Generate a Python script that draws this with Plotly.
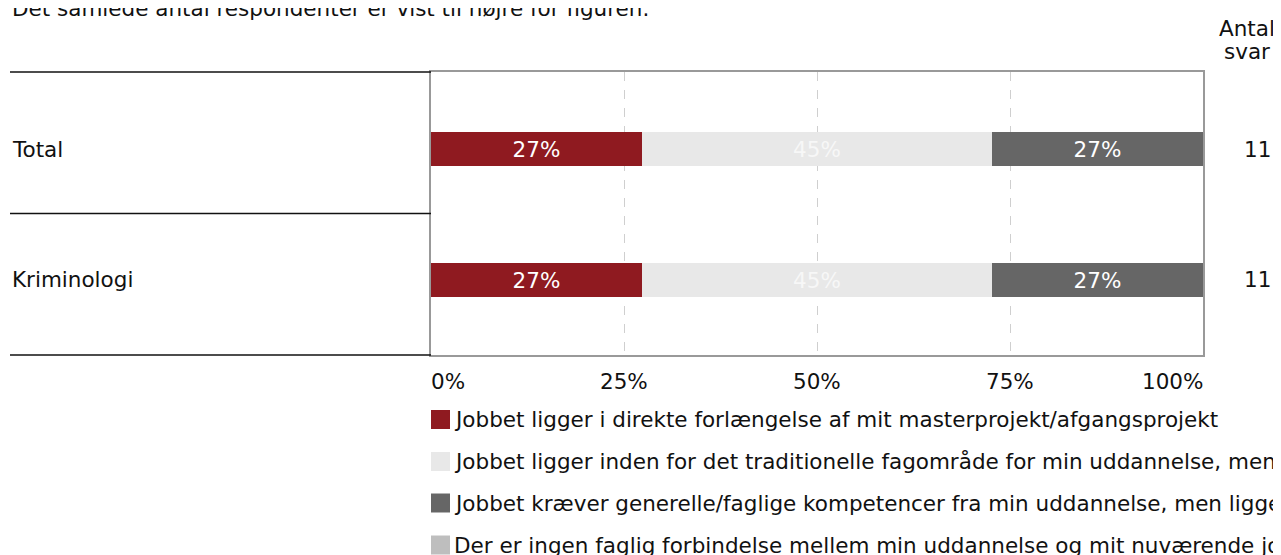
import plotly.graph_objects as go

# ---------------- data ----------------
categories = ["Total", "Kriminologi"]
series_names = [
    "Jobbet ligger i direkte forlængelse af mit masterprojekt/afgangsprojekt",
    "Jobbet ligger inden for det traditionelle fagområde for min uddannelse, men ikke i direkte forlængelse af mit masterprojekt/afgangsprojekt",
    "Jobbet kræver generelle/faglige kompetencer fra min uddannelse, men ligger uden for det traditionelle fagområde",
    "Der er ingen faglig forbindelse mellem min uddannelse og mit nuværende job",
]
direkte = [27.27, 27.27]
inden_for = [45.45, 45.45]
generelle = [27.27, 27.27]
ingen = [0.0, 0.0]
counts = [11, 11]
tick_vals = [0, 25, 50, 75, 100]
tick_labels = ["0%", "25%", "50%", "75%", "100%"]
title_text = "Det samlede antal respondenter er vist til højre for figuren."
count_header = ["Antal", "svar"]

series_values = [direkte, inden_for, generelle, ingen]
colors = ["#8f1a20", "#e8e8e8", "#666666", "#bebebe"]
text_colors = ["#ffffff", "#f7f7f7", "#ffffff", "#ffffff"]

FONT = "Verdana, DejaVu Sans, sans-serif"
FS = 21.5
TXT = "#111111"

OFF = 8  # page body margin
W, H = 1281 - OFF, 555 - OFF
# plot area in page pixels (reference)
PL, PR, PT, PB = 431, 1203, 72, 355
L, R, T, B = PL - OFF, PR - OFF, PT - OFF, PB - OFF


def px_x(x):  # page pixel -> paper
    return (x - PL) / (PR - PL)


def px_y(y):
    return (PB - y) / (PB - PT)


fig = go.Figure()
for name, vals, col, tcol in zip(series_names, series_values, colors, text_colors):
    fig.add_trace(go.Bar(
        y=categories, x=vals, name=name, orientation="h",
        marker=dict(color=col, line=dict(width=0)),
        width=0.255,
        text=[f"{round(v)}%" if v > 0 else "" for v in vals],
        textposition="inside", insidetextanchor="middle", textangle=0,
        insidetextfont=dict(color=tcol, size=FS, family=FONT),
        hoverinfo="skip", showlegend=False,
    ))

annotations = []
for cat, n in zip(categories, counts):
    annotations.append(dict(x=px_x(10), xref="paper", y=cat, yref="y", text=cat,
                            xanchor="left", yanchor="middle", showarrow=False,
                            font=dict(size=FS, color=TXT, family=FONT)))
    annotations.append(dict(x=px_x(1273), xref="paper", y=cat, yref="y", text=str(n),
                            xanchor="right", yanchor="middle", showarrow=False,
                            font=dict(size=FS, color=TXT, family=FONT)))
annotations.append(dict(x=px_x(1247), xref="paper", y=px_y(28), yref="paper", text=count_header[0],
                        xanchor="center", yanchor="middle", showarrow=False,
                        font=dict(size=FS, color=TXT, family=FONT)))
annotations.append(dict(x=px_x(1247), xref="paper", y=px_y(52), yref="paper", text=count_header[1],
                        xanchor="center", yanchor="middle", showarrow=False,
                        font=dict(size=FS, color=TXT, family=FONT)))
annotations.append(dict(x=px_x(10), xref="paper", y=px_y(9), yref="paper", text=title_text,
                        xanchor="left", yanchor="middle", showarrow=False,
                        font=dict(size=FS, color=TXT, family=FONT)))

# x tick labels (first left-justified, last right-justified, like the reference)
for i, (tv, tl) in enumerate(zip(tick_vals, tick_labels)):
    anchor = "left" if i == 0 else ("right" if i == len(tick_vals) - 1 else "center")
    annotations.append(dict(x=tv, xref="x", y=px_y(381.5), yref="paper", text=tl,
                            xanchor=anchor, yanchor="middle", showarrow=False,
                            xshift=(-2 if anchor == "left" else (2 if anchor == "right" else 0)),
                            font=dict(size=FS, color=TXT, family=FONT)))

shapes = []
for yy in [PT, (PT + PB) / 2, PB]:
    shapes.append(dict(type="line", xref="paper", yref="paper",
                       x0=px_x(10), x1=0, y0=px_y(yy), y1=px_y(yy),
                       line=dict(color="#111111", width=1.3)))

leg_centers = [419.5, 461.5, 503, 545]
for name, col, cy in zip(series_names, colors, leg_centers):
    shapes.append(dict(type="rect", xref="paper", yref="paper",
                       x0=px_x(431), x1=px_x(450), y0=px_y(cy - 9.5), y1=px_y(cy + 9.5),
                       fillcolor=col, line=dict(width=0)))
    annotations.append(dict(x=px_x(452), xref="paper", y=px_y(cy), yref="paper", text=name,
                            xanchor="left", yanchor="middle", showarrow=False,
                            font=dict(size=FS, color=TXT, family=FONT)))

fig.update_layout(
    width=W, height=H,
    margin=dict(l=L, r=W - R, t=T, b=H - B, pad=0),
    paper_bgcolor="white", plot_bgcolor="white",
    barmode="stack", bargap=0,
    showlegend=False,
    font=dict(family=FONT, size=FS, color=TXT),
    annotations=annotations, shapes=shapes,
    uniformtext=dict(minsize=FS, mode="show"),
)
fig.update_xaxes(
    range=[0, 100], tickvals=tick_vals, showticklabels=False,
    showgrid=True, gridcolor="#cfcfcf", griddash="dash", gridwidth=1,
    showline=True, linecolor="#999999", linewidth=1.5, mirror=True,
    ticks="", zeroline=False, fixedrange=True,
)
fig.update_yaxes(
    type="category", categoryorder="array", categoryarray=categories,
    range=[1.573, -0.588], showticklabels=False, ticks="",
    showgrid=False, showline=True, linecolor="#999999", linewidth=1.5, mirror=True,
    zeroline=False, fixedrange=True,
)

fig.write_html("out.html", config={"displayModeBar": False})
